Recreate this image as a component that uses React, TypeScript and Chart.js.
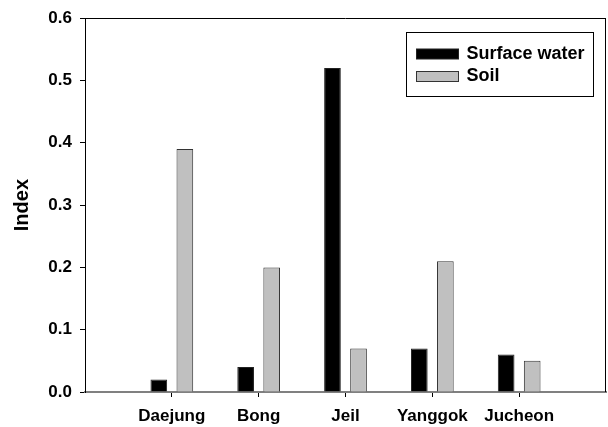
import React, { useEffect, useRef } from "react";
import { Chart, registerables } from "chart.js";

Chart.register(...registerables);

const categories = ["Daejung", "Bong", "Jeil", "Yanggok", "Jucheon"];
const surfaceWater = [0.02, 0.04, 0.52, 0.07, 0.06];
const soil = [0.39, 0.2, 0.07, 0.21, 0.05];
const seriesNames = ["Surface water", "Soil"];
const yMin = 0;
const yMax = 0.6;
const yStep = 0.1;

const FONT = "Arial, 'Liberation Sans', sans-serif";

const framePlugin = {
  id: "frame",
  afterDatasetsDraw(chart: any) {
    const { ctx, chartArea } = chart;
    ctx.save();
    ctx.strokeStyle = "#000";
    ctx.lineWidth = 1;
    ctx.beginPath();
    ctx.moveTo(chartArea.left, Math.round(chartArea.top) + 0.5);
    ctx.lineTo(chartArea.right, Math.round(chartArea.top) + 0.5);
    ctx.moveTo(Math.round(chartArea.right) - 0.5, chartArea.top);
    ctx.lineTo(Math.round(chartArea.right) - 0.5, chartArea.bottom);
    ctx.stroke();
    ctx.restore();
  },
};

const boxLegendPlugin = {
  id: "boxLegend",
  afterDraw(chart: any) {
    const { ctx, chartArea } = chart;
    const boxW = 187;
    const boxH = 64;
    const left = Math.round(chartArea.right - 13 - boxW) + 0.5;
    const top = Math.round(chartArea.top + 14) + 0.5;
    ctx.save();
    ctx.fillStyle = "#fff";
    ctx.fillRect(left, top, boxW, boxH);
    ctx.strokeStyle = "#000";
    ctx.lineWidth = 1;
    ctx.strokeRect(left, top, boxW, boxH);
    chart.data.datasets.forEach((ds: any, i: number) => {
      const sy = top + 16.5 + i * 22.5;
      ctx.fillStyle = ds.backgroundColor;
      ctx.fillRect(left + 10, sy, 42, 10);
      ctx.strokeStyle = ds.borderColor;
      ctx.lineWidth = 1;
      ctx.strokeRect(left + 10, sy, 42, 10);
      ctx.fillStyle = "#000";
      ctx.font = `bold 18px ${FONT}`;
      ctx.textBaseline = "middle";
      ctx.textAlign = "left";
      ctx.fillText(ds.label, left + 60, sy + 5);
    });
    ctx.restore();
  },
};

export default function App() {
  const ref = useRef<HTMLCanvasElement | null>(null);

  useEffect(() => {
    if (!ref.current) return;
    const labels = ["", ...categories, ""];
    const pad = (arr: number[]) => [null, ...arr, null];
    const last = labels.length - 1;
    const chart = new Chart(ref.current, {
      type: "bar",
      data: {
        labels,
        datasets: [
          {
            label: seriesNames[0],
            data: pad(surfaceWater) as any,
            backgroundColor: "#000000",
            borderColor: "#222222",
            borderWidth: 1,
            categoryPercentage: 0.6,
            barPercentage: 0.64,
          },
          {
            label: seriesNames[1],
            data: pad(soil) as any,
            backgroundColor: "#c0c0c0",
            borderColor: "#333333",
            borderWidth: 1,
            categoryPercentage: 0.6,
            barPercentage: 0.64,
          },
        ],
      },
      options: {
        animation: false,
        responsive: false,
        devicePixelRatio: 1,
        layout: { padding: { top: 17, right: 2, left: 0, bottom: 0 } },
        plugins: {
          legend: { display: false },
          tooltip: { enabled: false },
        },
        scales: {
          x: {
            type: "category",
            offset: false,
            grid: {
              offset: false,
              drawOnChartArea: false,
              drawTicks: true,
              tickLength: 5,
              color: (c: any) =>
                c.index === 0 || c.index === last ? "rgba(0,0,0,0)" : "#000",
            },
            border: { display: true, color: "#808080", width: 2 },
            ticks: {
              autoSkip: false,
              maxRotation: 0,
              color: "#000",
              padding: 9,
              font: { family: FONT, size: 17, weight: "bold" },
            },
            afterFit: (s: any) => {
              s.height = 35;
              s.paddingLeft = 0;
              s.paddingRight = 0;
            },
          },
          y: {
            type: "linear",
            min: yMin,
            max: yMax,
            ticks: {
              stepSize: yStep,
              color: "#000",
              padding: 8,
              font: { family: FONT, size: 17, weight: "bold" },
              callback: (v: any) => Number(v).toFixed(1),
            },
            grid: {
              drawOnChartArea: false,
              drawTicks: true,
              tickLength: 5,
              color: "#000",
            },
            border: { display: true, color: "#000", width: 1 },
            title: {
              display: true,
              text: "Index",
              color: "#000",
              font: { family: FONT, size: 20, weight: "bold" },
              padding: { top: 10, bottom: 4 },
            },
            afterFit: (s: any) => {
              s.width = 85;
            },
          },
        },
      },
      plugins: [framePlugin, boxLegendPlugin],
    });
    return () => chart.destroy();
  }, []);

  return (
    <div style={{ position: "absolute", left: 0, top: 0, width: 608, height: 427, background: "#fff" }}>
      <canvas ref={ref} width={608} height={427} style={{ width: 608, height: 427, display: "block" }} />
    </div>
  );
}
